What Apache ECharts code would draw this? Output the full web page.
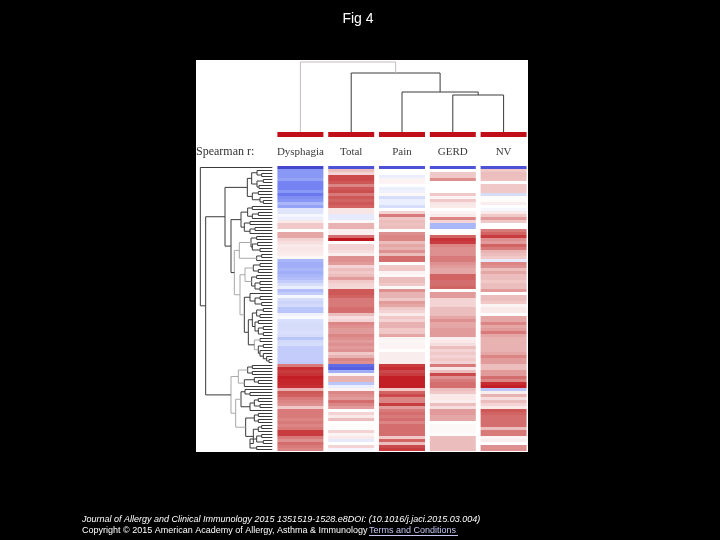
<!DOCTYPE html>
<html><head><meta charset="utf-8">
<style>html,body{margin:0;padding:0;background:#000}#c,#t{width:720px;height:540px;position:absolute;left:0;top:0}#c{filter:blur(.55px)}</style>
<script src="https://cdn.jsdelivr.net/npm/echarts@6/dist/echarts.min.js"></script>
</head><body><div id="c"></div><div id="t"></div>
<script>
const categories = ['Dysphagia','Total','Pain','GERD','NV'];
const dysphagia = [-.95,-.6,-.6,-.6,-.55,-.7,-.7,-.7,-.6,-.75,-.65,-.6,-.45,-.55,-.15,-.15,-.05,-.1,.1,.25,.25,0,.4,.4,
 .2,.15,.1,.12,.1,.08,.03,-.45,-.5,-.5,-.45,-.5,-.45,-.4,-.3,-.2,-.1,-.4,-.3,-.05,-.2,-.25,-.22,-.35,-.35,-.08,-.03,
 -.18,-.2,-.2,-.2,-.18,-.2,-.35,-.22,-.2,-.3,-.3,-.3,-.3,-.3,-.32,.6,.9,.85,.88,.95,.92,.92,.9,.35,.75,.72,.6,.55,.5,
 .25,.6,.6,.6,.55,.6,.55,.6,.85,.85,.6,.5,.65,.6,.55];
const total = [-.9,.3,.2,.8,.8,.75,.55,.75,.78,.6,.75,.7,.75,.7,.12,.12,-.12,-.12,.03,.35,.35,.08,.08,.65,.98,0,.2,.2,
 .15,.08,.5,.5,.45,.2,.3,.25,.3,.45,.25,.2,.18,.75,.75,.7,.6,.6,.6,.65,.65,.3,.15,.2,.55,.5,.45,.45,.55,.5,.45,.5,.45,
 .5,.25,.35,.55,.5,-.8,-.85,-.5,.05,.35,.35,-.35,-.1,.05,.55,.5,.45,.65,.55,.45,0,.2,.1,.3,0,.02,.02,.2,.05,.1,-.12,0,.2,-.05];
const pain = [-.9,0,0,-.1,.05,.05,0,-.1,-.08,.03,-.2,-.1,-.1,-.2,0,.2,.6,.25,.3,.28,.3,0,.5,.55,.55,.3,.4,.35,.5,.3,
 .65,.65,0,.25,.25,.05,.03,.3,.3,.25,.03,.5,.35,.35,.25,.45,.4,.25,.2,.1,.25,.2,.35,.35,.25,.25,.4,.05,.04,.05,.05,0,
 .08,.08,.08,.08,.85,.9,.8,.85,.95,.95,.95,.95,.25,.7,.8,.55,.55,.85,.45,.6,.65,.6,.65,.55,.65,.65,.65,.65,.25,.7,.3,.8,.85];
const gerd = [-.9,0,.25,.25,.5,0,0,0,0,.25,.05,.25,.12,.1,0,.05,.1,.55,.2,-.45,-.45,0,.02,.7,.88,.85,.55,.5,.5,.5,.6,
 .6,.5,.45,.4,.4,.7,.7,.65,.65,.7,.02,.45,.45,.2,.2,.2,.3,.3,.3,.4,.5,.4,.4,.45,.45,.45,.08,.1,.15,.3,.2,.25,.2,.25,
 .2,.6,.12,.3,.8,.5,.6,.65,.65,.3,.25,.1,.1,.08,.3,.15,.45,.45,.4,.4,0,.03,.03,.03,.02,.3,.3,.3,.3,.3];
const nv = [-.9,.25,.3,.3,.28,0,.25,.25,.25,-.2,.02,.02,.08,0,-.05,.1,.25,.45,.25,0,0,.6,.7,.85,.5,.45,.7,.6,.35,.3,
 .25,-.12,.55,.5,.3,.4,.3,.3,.25,.3,.3,.45,0,.3,.3,.25,.05,.1,.1,0,.4,.4,.55,.4,.45,.6,.4,.35,.35,.35,.35,.35,.4,.55,
 .45,.45,.3,.3,.45,.45,.65,.55,.9,.95,-.35,.08,.35,.15,.3,.2,.1,.75,.7,.65,.65,.65,.65,.3,.6,.6,.05,.08,0,.5,.5];
const headerBar = [1,1,1,1,1];
const colorStops = ['#3a3ac4','#6a78f0','#a0aef8','#ccd4fa','#ffffff','#f0c8c8','#de9090','#ce5858','#c00f18'];
// Clusters: [height, childA, childB, shade]; a number child is a leaf index.
const rowTree = [16,0,[32,
  [90,
    [157,[170,[186,1,[200,2,3]],[186,[205,4,5],[192,6,7]]],[172,[190,8,9],[195,10,[205,11,12]]]],
    [108,
      [138,[158,[172,13,14],[172,[190,15,16],17]],[148,[165,18,19],[165,[180,20,21],22]]],
      [118,
        [133,[168,[185,23,24],[172,[188,25,26],[195,27,28]]],[185,[200,29,30],31],'g'],
        [135,[150,[175,[195,32,33],[190,34,35]],[170,[185,36,37],[180,[195,38,39],[195,40,41]]],'g'],
          [148,[165,42,[180,[195,43,44],[200,45,46]]],
            [160,[172,[185,[205,47,48],[195,49,50]],[180,[190,51,52],[190,[205,53,54],[205,55,56]]]],
                 [178,[195,57,58],[190,[205,59,60],[195,61,[205,62,[215,63,[222,64,65]]]]],'g']]],'g'],'g']]],
  [108,
    [130,[158,[172,66,67],[172,68,69]],[148,[178,70,[190,71,72]],73],'g'],
    [122,
      [138,[150,74,[165,75,76]],[165,[178,[190,77,78],[195,79,80]],81]],
      [152,[178,[190,82,83],[190,84,85]],[175,[190,[200,86,87],88],[165,[185,[200,89,90],[205,91,92]],[185,93,94]]]],'g'],'g']]];
const columnTree = [70,0,[59,1,[40,2,[37,3,4]]],'p'];
const figTitle = 'Fig 4';
const citation = 'Journal of Allergy and Clinical Immunology 2015 1351519-1528.e8DOI: (10.1016/j.jaci.2015.03.004)';
const copyright = 'Copyright © 2015 American Academy of Allergy, Asthma & Immunology';
const linkText = 'Terms and Conditions';

function flatten(node, leafH, out){
  if (typeof node === 'number') return {h:leafH,p:node};
  const [h,a,b,s] = node, A = flatten(a,leafH,out), B = flatten(b,leafH,out), p=(A.p+B.p)/2;
  out.push([h,A.p,A.h,B.p,B.h,s==='g'?'#a8a8a8':s==='p'?'#c9baba':'#3a3a3a']);
  return {h,p};
}
const rowNodes=[], colNodes=[];
flatten(rowTree,232,rowNodes); flatten(columnTree,0,colNodes);
const cells=[];
[dysphagia,total,pain,gerd,nv].forEach((col,c)=>col.forEach((v,r)=>cells.push([c,r,v])));
const headCells=headerBar.map((v,c)=>[c,0,v]);

function rectItem(params,api){
  const c=api.coord([api.value(0),api.value(1)]);
  const w=api.size([1,0])[0]*0.905, h=api.size([0,1])[1];
  return {type:'rect',shape:{x:c[0]-w/2,y:c[1]-h/2,width:w,height:h},style:{fill:api.visual('color')}};
}
function treeItem(horizontal){
  const nodes=horizontal?rowNodes:colNodes;
  return function(params,api){
    const h=api.value(0),pa=api.value(1),ha=api.value(2),pb=api.value(3),hb=api.value(4);
    const pt=(H,P)=>api.coord(horizontal?[H,P]:[P,H]);
    return {type:'polyline',shape:{points:[pt(ha,pa),pt(h,pa),pt(h,pb),pt(hb,pb)]},
      style:{fill:null,stroke:nodes[params.dataIndex][5],lineWidth:1}};
  };
}
const serif='"Liberation Serif","DejaVu Serif",serif', sans='"Liberation Sans",Arial,sans-serif';
const opt={
  backgroundColor:'#000',animation:false,
  grid:[
    {left:275,width:254,top:166,height:285},
    {left:275,width:254,top:132,height:5},
    {left:275,width:254,top:60,height:72},
    {left:195,width:82,top:166,height:285}
  ],
  xAxis:[
    {gridIndex:0,type:'category',data:categories,show:false},
    {gridIndex:1,type:'category',data:categories,position:'bottom',axisLine:{show:false},axisTick:{show:false},
      axisLabel:{margin:10,fontFamily:serif,fontSize:11,color:'#3a3a3a',interval:0}},
    {gridIndex:2,type:'value',min:-.5,max:4.5,show:false},
    {gridIndex:3,type:'value',min:0,max:246,show:false}
  ],
  yAxis:[
    {gridIndex:0,type:'category',inverse:true,data:dysphagia.map((_,i)=>i),show:false},
    {gridIndex:1,type:'category',data:['r'],show:false},
    {gridIndex:2,type:'value',min:0,max:72,show:false},
    {gridIndex:3,type:'value',inverse:true,min:-.5,max:94.5,show:false}
  ],
  visualMap:{show:false,type:'continuous',min:-1,max:1,dimension:2,seriesIndex:[0,1],inRange:{color:colorStops}},
  graphic:[
    {type:'rect',z:-1,shape:{x:196,y:60,width:332,height:392},style:{fill:'#fff'}},
    {type:'text',left:196,top:146,style:{text:'Spearman r:',font:'12px '+serif,fill:'#333'}}
  ],
  series:[
    {type:'custom',coordinateSystem:'cartesian2d',xAxisIndex:0,yAxisIndex:0,data:cells,renderItem:rectItem,encode:{x:0,y:1},silent:true},
    {type:'custom',coordinateSystem:'cartesian2d',xAxisIndex:1,yAxisIndex:1,data:headCells,renderItem:rectItem,encode:{x:0,y:1},silent:true},
    {type:'custom',coordinateSystem:'cartesian2d',xAxisIndex:2,yAxisIndex:2,data:colNodes.map(d=>d.slice(0,5)),renderItem:treeItem(false),silent:true},
    {type:'custom',coordinateSystem:'cartesian2d',xAxisIndex:3,yAxisIndex:3,data:rowNodes.map(d=>d.slice(0,5)),renderItem:treeItem(true),silent:true}
  ]
};
echarts.init(document.getElementById('c'),null,{renderer:'canvas'}).setOption(opt);
const textOpt={
  backgroundColor:'transparent',animation:false,
  graphic:[
    {type:'text',x:358,y:19,style:{text:figTitle,font:'14px '+sans,fill:'#fff',align:'center',verticalAlign:'middle'}},
    {type:'text',x:82,y:519,style:{text:citation,font:'italic 9px '+sans,fill:'#fff',verticalAlign:'middle'}},
    {type:'text',x:82,y:531,style:{text:copyright,font:'9px '+sans,fill:'#fff',verticalAlign:'middle'}},
    {type:'text',x:369,y:531,style:{text:linkText,font:'9px '+sans,fill:'#c4c4f0',verticalAlign:'middle'}},
    {type:'rect',shape:{x:369,y:535,width:89,height:1},style:{fill:'#c4c4f0'}}
  ]
};
echarts.init(document.getElementById('t'),null,{renderer:'canvas'}).setOption(textOpt);
</script></body></html>
